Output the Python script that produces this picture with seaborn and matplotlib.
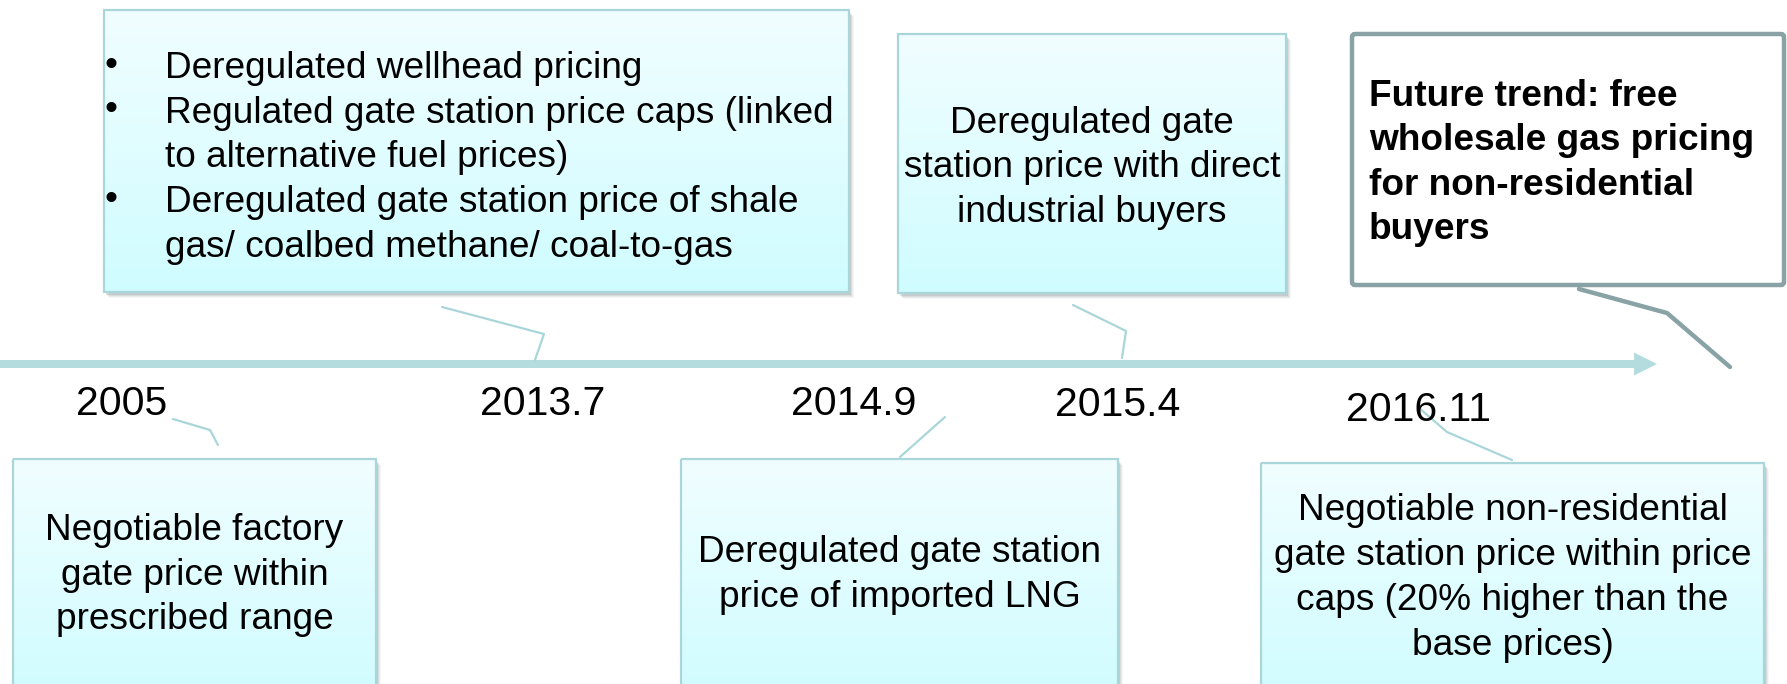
import numpy as np
import matplotlib
matplotlib.use("Agg")
import matplotlib.pyplot as plt
import matplotlib.patches as mpatches
from matplotlib.colors import LinearSegmentedColormap
import seaborn as sns

# ------------------------------------------------------------------
# Data: timeline milestones and the event text of each box
# ------------------------------------------------------------------
years = ["2005", "2013.7", "2014.9", "2015.4", "2016.11"]

events_top = [
    ["Deregulated wellhead pricing",
     "Regulated gate station price caps (linked",
     "to alternative fuel prices)",
     "Deregulated gate station price of shale",
     "gas/ coalbed methane/ coal-to-gas"],
    ["Deregulated gate", "station price with direct", "industrial buyers"],
]
bullet_lines = [0, 1, 3]   # lines of the first box that start with a bullet

events_bottom = [
    ["Negotiable factory", "gate price within", "prescribed range"],
    ["Deregulated gate station", "price of imported LNG"],
    ["Negotiable non-residential", "gate station price within price",
     "caps (20% higher than the", "base prices)"],
]

future_text = ["Future trend: free", "wholesale gas pricing",
               "for non-residential", "buyers"]

# ------------------------------------------------------------------
# Layout (pixel units, y goes down)
# ------------------------------------------------------------------
W, H = 1787, 684
year_x = [122, 543, 854, 1118, 1418]
year_base = [415, 415, 415, 416, 421]

top_boxes = [(104, 10, 849, 292), (898, 34, 1286, 293)]
top_baselines = [[78, 123, 167, 212, 257], [133, 177, 222]]
bottom_boxes = [(13, 459, 376, 700), (681, 459, 1118, 700), (1261, 463, 1764, 700)]
bottom_baselines = [[540, 585, 629], [562, 607], [520, 565, 610, 655]]
future_box = (1352, 34, 1784, 285)
future_baselines = [106, 150, 195, 239]

tails_light = [
    ([442, 544, 535], [307, 334, 360]),
    ([1073, 1126, 1122], [305, 331, 358]),
    ([173, 210, 218], [419, 430, 445]),
    ([945, 900], [417, 457]),
    ([1419, 1447, 1512], [408, 432, 460]),
]
tail_future = ([1579, 1667, 1730], [289, 313, 367])

ARROW_C = "#b4dbde"
EDGE_C = "#aad6da"
FUT_C = "#88a2a5"
TXT_PT = 37 * 72 / 100
YEAR_PT = 41 * 72 / 100

sns.set_theme(style="white")
plt.rcParams["font.family"] = ["Liberation Sans", "DejaVu Sans"]
plt.rcParams["text.color"] = "black"

fig = plt.figure(figsize=(W / 100, H / 100), dpi=100)
ax = fig.add_axes([0, 0, 1, 1])
ax.set_axis_off()

grad_cmap = LinearSegmentedColormap.from_list("box", ["#f1feff", "#cffcff"])
grad = np.linspace(0, 1, 256).reshape(-1, 1)


def draw_box(x0, y0, x1, y1):
    # soft shadow
    for off, a in [(6, 0.07), (5, 0.1), (4, 0.14), (3, 0.2)]:
        ax.add_patch(mpatches.Rectangle((x0 + off - 1, y0 + off), x1 - x0, y1 - y0,
                                        facecolor="#7a8a8c", edgecolor="none",
                                        alpha=a, zorder=1))
    ax.imshow(grad, cmap=grad_cmap, aspect="auto", origin="upper",
              extent=(x0, x1, y1, y0), zorder=2, interpolation="bilinear")
    ax.add_patch(mpatches.Rectangle((x0, y0), x1 - x0, y1 - y0, facecolor="none",
                                    edgecolor=EDGE_C, linewidth=1.6, zorder=3))


# timeline arrow
ax.add_patch(mpatches.FancyArrow(0, 364, 1657, 0, width=8, head_width=23,
                                 head_length=23, length_includes_head=True,
                                 color=ARROW_C, linewidth=0, zorder=1))

# top boxes
for box in top_boxes:
    draw_box(*box)
for i, (line, yb) in enumerate(zip(events_top[0], top_baselines[0])):
    if i in bullet_lines:
        ax.text(111, yb - 13, "\u2022", fontsize=TXT_PT, ha="center", va="center", zorder=5)
    ax.text(165, yb, line, fontsize=TXT_PT, ha="left", va="baseline", zorder=5)
cx = (top_boxes[1][0] + top_boxes[1][2]) / 2
for line, yb in zip(events_top[1], top_baselines[1]):
    ax.text(cx, yb, line, fontsize=TXT_PT, ha="center", va="baseline", zorder=5)

# bottom boxes
for box, lines, bases in zip(bottom_boxes, events_bottom, bottom_baselines):
    draw_box(*box)
    cx = (box[0] + box[2]) / 2
    for line, yb in zip(lines, bases):
        ax.text(cx, yb, line, fontsize=TXT_PT, ha="center", va="baseline", zorder=5)

# future trend callout
fx0, fy0, fx1, fy1 = future_box
ax.add_patch(mpatches.FancyBboxPatch((fx0, fy0), fx1 - fx0, fy1 - fy0,
                                     boxstyle="round,pad=0,rounding_size=3",
                                     facecolor="white", edgecolor=FUT_C,
                                     linewidth=3.2, zorder=3))
for line, yb in zip(future_text, future_baselines):
    ax.text(1369, yb, line, fontsize=TXT_PT, fontweight="bold", ha="left",
            va="baseline", zorder=5)

# callout tails
for xs, ys in tails_light:
    sns.lineplot(x=xs, y=ys, sort=False, color=EDGE_C, linewidth=1.6, ax=ax,
                 estimator=None, zorder=4)
sns.lineplot(x=tail_future[0], y=tail_future[1], sort=False, color=FUT_C,
             linewidth=3.2, ax=ax, estimator=None, zorder=4)

# year labels
for lab, x, yb in zip(years, year_x, year_base):
    ax.text(x, yb, lab, fontsize=YEAR_PT, ha="center", va="baseline", zorder=5)

ax.set_xlim(0, W)
ax.set_ylim(H, 0)
fig.savefig("out.png", dpi=100)
